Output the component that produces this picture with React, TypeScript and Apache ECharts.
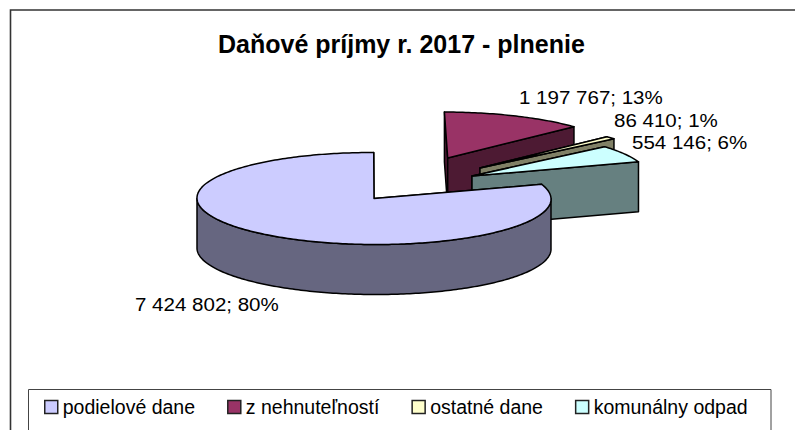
import React, { useEffect, useRef } from "react";
import * as echarts from "echarts";

const TITLE = "Daňové príjmy r. 2017 - plnenie";
const categories = ["podielové dane", "z nehnuteľností", "ostatné dane", "komunálny odpad"];
const values = [7424802, 1197767, 86410, 554146];
const topColors = ["#ccccff", "#993366", "#ffffcc", "#ccffff"];
const sideColors = ["#666680", "#4d1a33", "#808066", "#668080"];

const FIRST_ANGLE = 72;
const RX = 177;
const RY = 46;
const DEPTH = 50;
// Apex of each (exploded) slice on the page, its perspective lean, and its label position
const apexes = [[374, 198.5], [447.7, 158], [480, 168], [472, 176]];
const leans = [2, 5, 4, 6];
const labelAt = [[135, 304], [519, 97], [614, 120], [632, 142]];
const drawOrder = [5, 2, 3, 4];

const total = values.reduce((s, v) => s + v, 0);
const fmt = (v: number) => String(v).replace(/\B(?=(\d{3})+(?!\d))/g, " ");

function angleRange(index: number, value: number): [number, number] {
  let start = FIRST_ANGLE;
  for (let i = 0; i < index; i++) start += (values[i] / total) * 360;
  return [start, start + (value / total) * 360];
}

function makeRender(index: number) {
  return (_params: any, api: any) => {
    const value = api.value(0) as number;
    const [a, b] = angleRange(index, value);
    const [cx, cy] = apexes[index];
    const lean = leans[index];
    const rim = (deg: number, dy = 0) => {
      const t = (deg * Math.PI) / 180;
      return [cx + RX * Math.sin(t) - lean * Math.cos(t), cy - RY * Math.cos(t) + dy];
    };
    const line = { stroke: "#000", lineWidth: 1.5, lineJoin: "round" };
    const poly = (points: number[][], fill: string) => ({
      type: "polygon",
      shape: { points },
      style: { fill, ...line },
    });
    const side = sideColors[index];
    const wall = (deg: number) =>
      poly([[cx, cy], rim(deg), rim(deg, DEPTH), [cx, cy + DEPTH]], side);
    const children: any[] = [wall(a % 360), wall(b % 360)];

    // Outer wall: the part of the slice that faces the viewer
    const from = Math.max(a, 90);
    const to = Math.min(b, 270);
    if (to > from) {
      const upper: number[][] = [];
      const lower: number[][] = [];
      for (let d = from; d <= to; d += 1) {
        upper.push(rim(d));
        lower.unshift(rim(d, DEPTH));
      }
      children.push(poly([...upper, ...lower], side));
    }

    const surface: number[][] = [[cx, cy]];
    const steps = Math.max(2, Math.ceil(b - a));
    for (let i = 0; i <= steps; i++) surface.push(rim(a + ((b - a) * i) / steps));
    children.push(poly(surface, topColors[index]));

    const pct = Math.round((value / total) * 100);
    children.push({
      type: "text",
      x: labelAt[index][0],
      y: labelAt[index][1],
      scaleX: 1.11,
      style: {
        text: `${fmt(value)}; ${pct}%`,
        font: "18.5px 'Liberation Sans'",
        fill: "#000",
        textAlign: "left",
        textVerticalAlign: "middle",
      },
    });
    return { type: "group", children };
  };
}

export default function App() {
  const ref = useRef<HTMLDivElement>(null);
  useEffect(() => {
    const chart = echarts.init(ref.current!, null, { renderer: "svg" });
    chart.setOption({
      animation: false,
      backgroundColor: "#fff",
      title: {
        text: TITLE,
        left: 213,
        top: 26,
        textStyle: { fontFamily: "'Liberation Sans'", fontWeight: "bold", fontSize: 25, color: "#000" },
      },
      graphic: [
        { type: "polyline", silent: true, shape: { points: [[10.5, 440], [10.5, 10], [800, 10]] }, style: { fill: "none", stroke: "#333", lineWidth: 1.6 } },
        { type: "rect", silent: true, shape: { x: 28.5, y: 389.5, width: 742.5, height: 60 }, style: { fill: "none", stroke: "#444", lineWidth: 1 } },
      ],
      legend: {
        left: 39,
        top: 397,
        padding: [0, 5],
        data: categories,
        icon: "rect",
        itemWidth: 13,
        itemHeight: 13,
        itemGap: 32,
        selectedMode: false,
        itemStyle: { borderColor: "#222", borderWidth: 1.5 },
        textStyle: { fontFamily: "'Liberation Sans'", fontSize: 19.5, color: "#000", padding: [0, 0, 0, 0] },
      },
      series: categories.map((name, i) => ({
        type: "custom",
        name,
        coordinateSystem: "none",
        silent: true,
        z: drawOrder[i],
        clip: false,
        itemStyle: { color: topColors[i] },
        renderItem: makeRender(i),
        data: [[values[i]]],
      })),
    });
    return () => chart.dispose();
  }, []);
  return <div ref={ref} style={{ position: "absolute", left: 0, top: 0, width: 795, height: 430 }} />;
}
